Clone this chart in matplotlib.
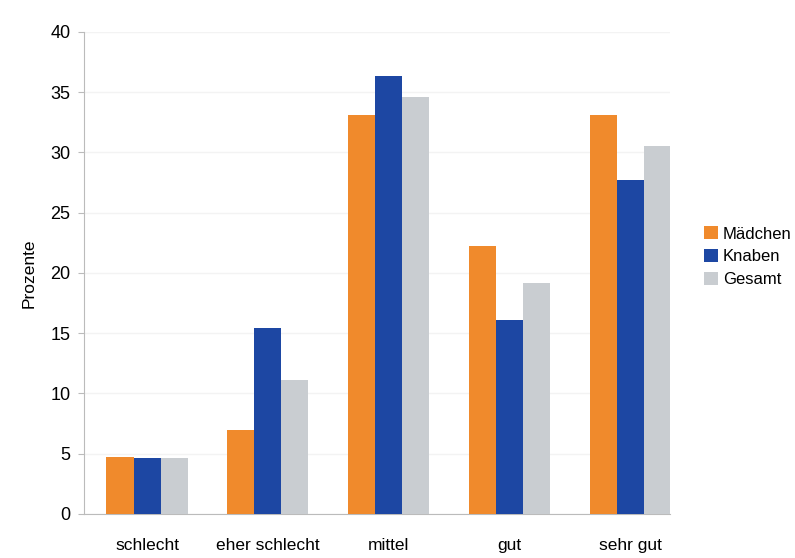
import numpy as np
import matplotlib.pyplot as plt

plt.rcParams['font.family'] = ['Liberation Sans', 'DejaVu Sans']

categories = ["schlecht", "eher schlecht", "mittel", "gut", "sehr gut"]
maedchen = [4.7, 7.0, 33.1, 22.2, 33.1]
knaben = [4.6, 15.4, 36.3, 16.1, 27.7]
gesamt = [4.6, 11.1, 34.6, 19.2, 30.5]
series_labels = ["Mädchen", "Knaben", "Gesamt"]
colors = ["#F08A2C", "#1D47A3", "#C9CDD1"]

fig = plt.figure(figsize=(7.95, 5.58), dpi=100)
ax = fig.add_axes([0.106, 0.079, 0.737, 0.864])

x = np.arange(len(categories))
w = 0.224
for i, (vals, lab) in enumerate(zip([maedchen, knaben, gesamt], series_labels)):
    ax.bar(x + (i - 1) * w, vals, width=w, color=colors[i], label=lab, zorder=3)

ax.set_ylim(0, 40)
ax.set_yticks(range(0, 41, 5))
ax.set_xlim(-0.52, 4.33)
ax.set_xticks(x)
ax.set_xticklabels(categories, fontsize=12.5)
ax.tick_params(axis='x', length=0, pad=17)
ax.tick_params(axis='y', labelsize=13, length=4, color='#bbbbbb', pad=6)
ax.set_ylabel("Prozente", fontsize=12.5, labelpad=10)

# faint horizontal guide lines as in the scan
ax.yaxis.grid(True, color='#f3f3f3', linewidth=1, zorder=0)
for side in ['top', 'right']:
    ax.spines[side].set_visible(False)
ax.spines['left'].set_color('#bbbbbb')
ax.spines['bottom'].set_color('#bbbbbb')

fig.legend(loc='center left', bbox_to_anchor=(0.886, 0.54), frameon=False,
           fontsize=12, handlelength=0.8, handleheight=0.8, handletextpad=0.3,
           labelspacing=0.45, borderaxespad=0, borderpad=0)

fig.savefig("out.png", dpi=100)
